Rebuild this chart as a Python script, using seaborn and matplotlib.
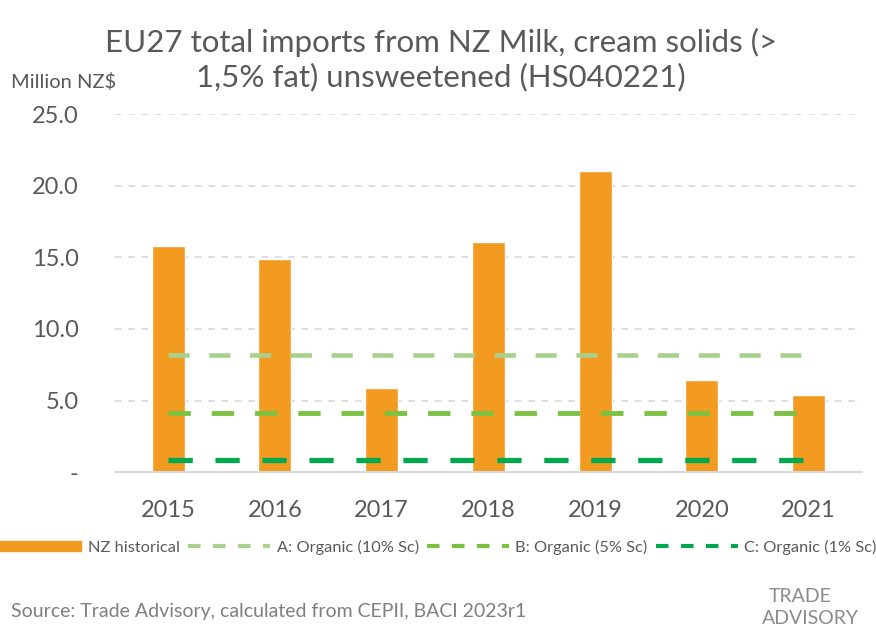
import matplotlib
matplotlib.use("Agg")
import matplotlib.pyplot as plt
import matplotlib.patches as mpatches
import matplotlib.lines as mlines
import numpy as np
import pandas as pd
import seaborn as sns

# Data (million NZ$)
years = ["2015", "2016", "2017", "2018", "2019", "2020", "2021"]
nz_historical = [15.8, 14.9, 5.9, 16.1, 21.0, 6.4, 5.4]
organic_a = [8.2, 8.2, 8.2, 8.2, 8.2, 8.2, 8.2]
organic_b = [4.1, 4.1, 4.1, 4.1, 4.1, 4.1, 4.1]
organic_c = [0.82, 0.82, 0.82, 0.82, 0.82, 0.82, 0.82]
y_ticks = [0, 5, 10, 15, 20, 25]
y_tick_labels = ["-", "5.0", "10.0", "15.0", "20.0", "25.0"]

sns.set_theme(style="white")
plt.rcParams["font.family"] = ["Lato", "DejaVu Sans"]

TEXT = "#595959"
ORANGE = "#F39A21"
GREEN_A = "#A9D18E"
GREEN_B = "#7CC242"
GREEN_C = "#00A84F"
GRID = "#D9D9D9"

fig = plt.figure(figsize=(8.76, 6.27), dpi=100)
ax = fig.add_axes([0.131, 0.247, 0.853, 0.571])

df = pd.DataFrame({"year": years, "value": nz_historical})
sns.barplot(data=df, x="year", y="value", color=ORANGE, saturation=1,
            width=0.31, ax=ax, zorder=2)

xpos = np.arange(len(years))
for vals, col, lw in [(organic_a, GREEN_A, 3.3),
                      (organic_b, GREEN_B, 3.5),
                      (organic_c, GREEN_C, 3.8)]:
    sns.lineplot(x=xpos, y=vals, color=col, linewidth=lw, ax=ax,
                 dashes=False, zorder=3)
    ax.lines[-1].set_dashes((4.6, 4.3))
    ax.lines[-1].set_solid_capstyle("butt")
    ax.lines[-1].set_dash_capstyle("butt")

ax.set_xlim(-0.5, len(years) - 0.5)
ax.set_ylim(0, 25)
ax.set_yticks(y_ticks)
ax.set_yticklabels(y_tick_labels)
for y in y_ticks[1:]:
    ax.axhline(y, color=GRID, linewidth=1.2, dashes=(4, 4), zorder=1)

for s in ["top", "right", "left"]:
    ax.spines[s].set_visible(False)
ax.spines["bottom"].set_color(GRID)
ax.spines["bottom"].set_linewidth(1.5)
ax.tick_params(axis="both", length=0, labelsize=17, labelcolor=TEXT)
ax.tick_params(axis="x", pad=20)
ax.tick_params(axis="y", pad=26)
ax.set_xlabel("")
ax.set_ylabel("")

fig.text(0.503, 0.933, "EU27 total imports from NZ Milk, cream solids (>",
         ha="center", va="center", fontsize=22.5, color=TEXT)
fig.text(0.503, 0.877, "1,5% fat) unsweetened (HS040221)",
         ha="center", va="center", fontsize=22.5, color=TEXT)
fig.text(0.012, 0.869, "Million NZ$", ha="left", va="center",
         fontsize=14.5, color=TEXT)

handles = [
    mpatches.Patch(color=ORANGE, label="NZ historical"),
    mlines.Line2D([], [], color=GREEN_A, linewidth=3, dashes=(3, 3),
                  label="A: Organic (10% Sc)"),
    mlines.Line2D([], [], color=GREEN_B, linewidth=3, dashes=(3, 3),
                  label="B: Organic (5% Sc)"),
    mlines.Line2D([], [], color=GREEN_C, linewidth=3, dashes=(3, 3),
                  label="C: Organic (1% Sc)"),
]
leg = fig.legend(handles=handles, loc="center", bbox_to_anchor=(0.5, 0.127),
                 ncol=4, frameon=False, fontsize=11.8, handlelength=5.0,
                 handleheight=0.6, columnspacing=0.5, handletextpad=0.4)
for t in leg.get_texts():
    t.set_color(TEXT)

fig.text(0.012, 0.024, "Source: Trade Advisory, calculated from CEPII, BACI 2023r1",
         ha="left", va="center", fontsize=14, color="#7F7F7F")
fig.text(0.913, 0.048, "TRADE", ha="center", va="center", fontsize=14,
         color="#8C8C8C")
fig.text(0.925, 0.014, "ADVISORY", ha="center", va="center", fontsize=14,
         color="#8C8C8C")

fig.savefig("out.png", dpi=100)
